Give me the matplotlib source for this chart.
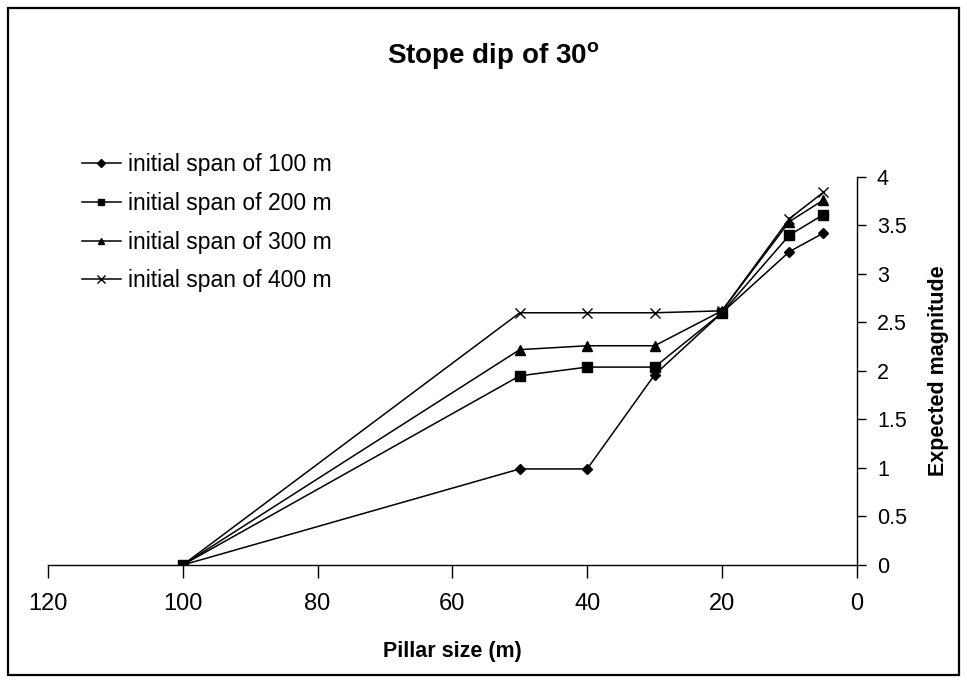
import matplotlib.pyplot as plt
from matplotlib.patches import Rectangle

# Pillar sizes (m) and expected magnitudes for each initial span
pillar_size = [100, 50, 40, 30, 20, 10, 5]
span_100 = [0, 0.99, 0.99, 1.96, 2.60, 3.23, 3.42]
span_200 = [0, 1.95, 2.04, 2.04, 2.60, 3.40, 3.61]
span_300 = [0, 2.22, 2.26, 2.26, 2.62, 3.54, 3.76]
span_400 = [0, 2.60, 2.60, 2.60, 2.62, 3.57, 3.84]
labels = ['initial span of 100 m', 'initial span of 200 m',
          'initial span of 300 m', 'initial span of 400 m']

plt.rcParams['font.family'] = ['Liberation Sans', 'DejaVu Sans']

fig = plt.figure(figsize=(9.67, 6.82), dpi=100)
ax = fig.add_axes([0.0496, 0.1716, 0.8364, 0.5689])

# outer chart border
fig.patches.append(Rectangle((0.008, 0.010), 0.984, 0.978, transform=fig.transFigure,
                             fill=False, edgecolor='black', linewidth=1.6))

styles = [('D', 5), ('s', 6.5), ('^', 6.5), ('x', 7.5)]
series = [span_100, span_200, span_300, span_400]
for vals, (mk, ms), lab in zip(series, styles, labels):
    ax.plot(pillar_size, vals, color='black', linewidth=1.1, marker=mk,
            markersize=ms, markeredgewidth=1.0, label=lab)

ax.set_xlim(120, 0)
ax.set_ylim(0, 4)
ax.set_xticks([120, 100, 80, 60, 40, 20, 0])
ax.set_yticks([0, 0.5, 1, 1.5, 2, 2.5, 3, 3.5, 4])
ax.set_yticklabels(['0', '0.5', '1', '1.5', '2', '2.5', '3', '3.5', '4'])

ax.spines['top'].set_visible(False)
ax.spines['left'].set_visible(False)
ax.spines['right'].set_linewidth(1.0)
ax.spines['bottom'].set_linewidth(1.0)
ax.yaxis.tick_right()
ax.yaxis.set_label_position('right')
ax.tick_params(axis='x', direction='out', length=9, width=1, pad=11, labelsize=17)
ax.tick_params(axis='y', direction='out', length=6.5, width=1, pad=8, labelsize=15.5)

ax.set_xlabel('Pillar size (m)', fontsize=15.5, fontweight='bold', labelpad=19)
ax.set_ylabel('Expected magnitude', fontsize=15.5, fontweight='bold', labelpad=15)

fig.text(0.51, 0.918, 'Stope dip of 30$^\\mathregular{o}$', ha='center', va='center',
         fontsize=20, fontweight='bold')

ax.legend(loc='upper left', bbox_to_anchor=(0.0848, 0.775), bbox_transform=fig.transFigure,
          frameon=False, fontsize=16.5, handlelength=1.7, handletextpad=0.3,
          labelspacing=0.68, markerscale=0.75, borderaxespad=0, borderpad=0)

fig.savefig('out.png', dpi=100)
